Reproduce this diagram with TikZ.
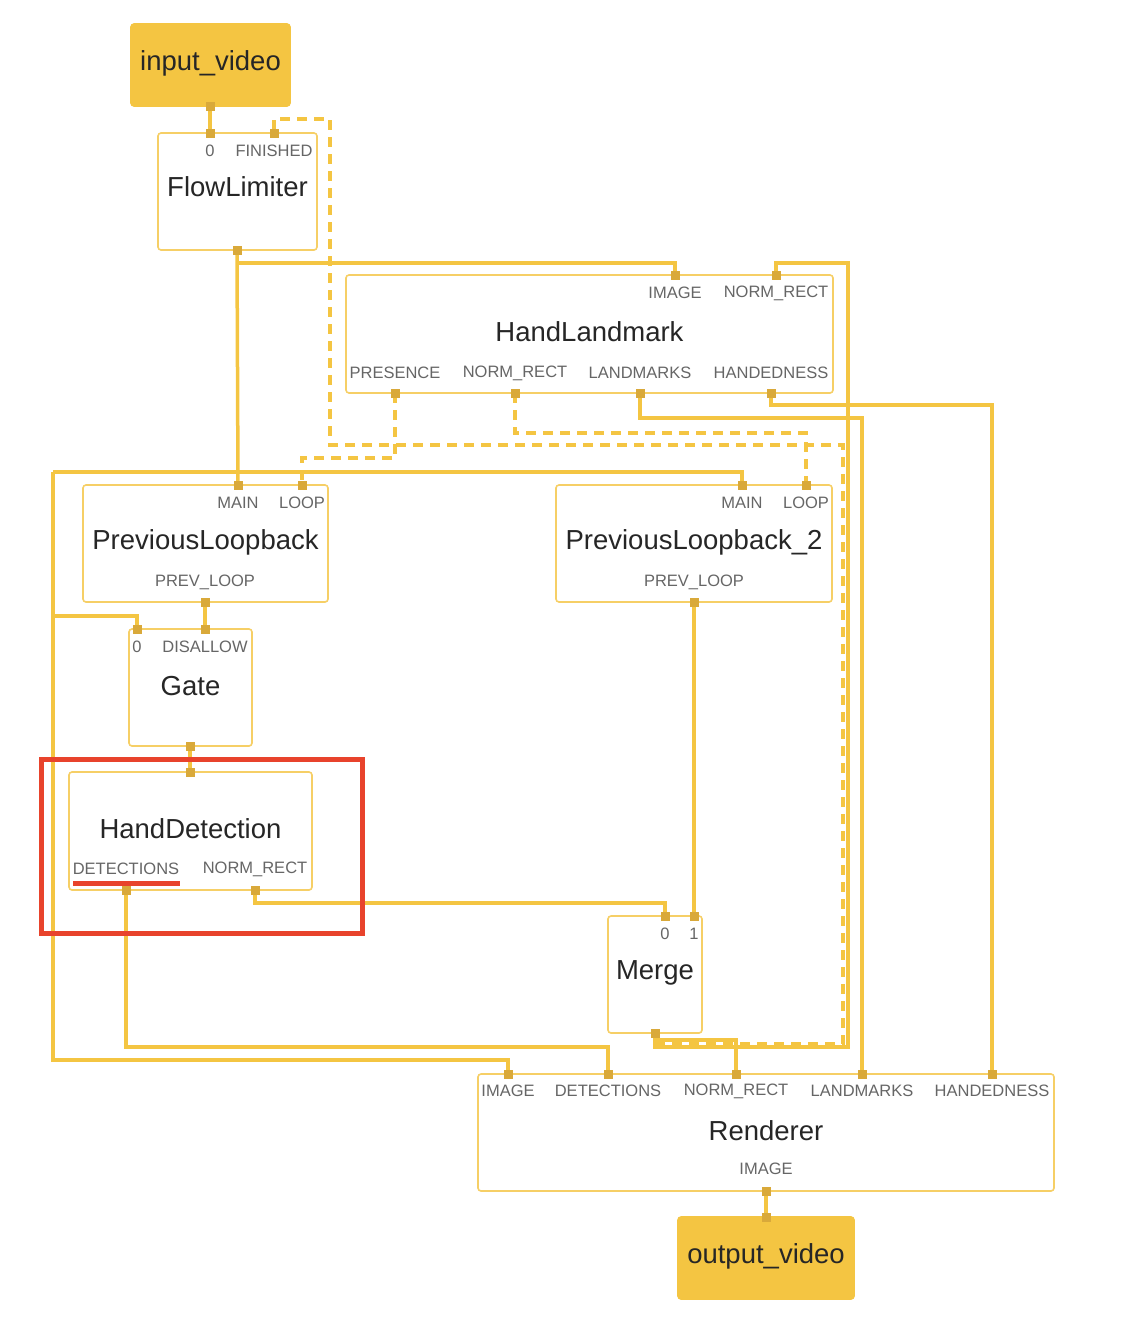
\documentclass[tikz,border=0pt]{standalone}
\usepackage{fontspec}
\setmainfont{Liberation Sans}
\usetikzlibrary{positioning}
\definecolor{wirecol}{HTML}{F4C542}
\definecolor{portcol}{HTML}{D9A93A}
\definecolor{framecol}{HTML}{F6CF66}
\definecolor{marker}{HTML}{E8432C}
\tikzset{
    box/.style = {draw=framecol, line width=1.6pt, fill=white, rounded corners=3pt, inner sep=0pt},
    stream/.style = {box, fill=wirecol, draw=wirecol},
    title/.style = {font=\fontsize{27.5}{30}\selectfont, text=black!85, inner sep=0pt},
    plabel/.style = {font=\fontsize{16.5}{18}\selectfont, text=black!60, inner sep=0pt},
    port/.style = {rectangle, fill=portcol, minimum size=9pt, inner sep=0pt},
    wire/.style = {draw=wirecol, line width=3.5pt},
    back/.style = {wire, dash pattern=on 10pt off 7pt}
}
\begin{document}
\begin{tikzpicture}[x=1pt, y=-1pt]
    \useasboundingbox (0,0) rectangle (1138,1328);

    % nodes
    \node[stream, minimum width=159, minimum height=82] (invid) at (210.5,65) {};
    \node[title] at (210.5,63) {input\_video};
    \node[box, minimum width=159, minimum height=117] (flow) at (237.5,191.5) {};
    \node[title] at (237.5,187) {FlowLimiter};
    \node[box, minimum width=487, minimum height=118] (land) at (589.5,334) {};
    \node[title] at (589.5,332) {HandLandmark};
    \node[box, minimum width=245, minimum height=117] (prev) at (205.5,543.5) {};
    \node[title] at (205.5,542) {PreviousLoopback};
    \node[box, minimum width=276, minimum height=117] (prevb) at (694,543.5) {};
    \node[title] at (694,542) {PreviousLoopback\_2};
    \node[box, minimum width=123, minimum height=117] (gate) at (190.5,687.5) {};
    \node[title] at (190.5,686) {Gate};
    \node[box, minimum width=243, minimum height=118] (det) at (190.5,831) {};
    \node[title] at (190.5,829) {HandDetection};
    \node[box, minimum width=94, minimum height=117] (merge) at (655,974.5) {};
    \node[title] at (655,973) {Merge};
    \node[box, minimum width=576, minimum height=117] (rend) at (766,1132.5) {};
    \node[title] at (766,1131) {Renderer};
    \node[stream, minimum width=176, minimum height=82] (outvid) at (766,1258) {};
    \node[title] at (766,1256) {output\_video};

    % port labels
    \node[plabel] at (210,151) {0};
    \node[plabel] at (274,151) {FINISHED};
    \node[plabel] at (675,293) {IMAGE};
    \node[plabel] at (776,293) {NORM\_RECT};
    \node[plabel] at (395,373) {PRESENCE};
    \node[plabel] at (515,373) {NORM\_RECT};
    \node[plabel] at (640,373) {LANDMARKS};
    \node[plabel] at (771,373) {HANDEDNESS};
    \node[plabel] at (238,503) {MAIN};
    \node[plabel] at (302,503) {LOOP};
    \node[plabel] at (205,582) {PREV\_LOOP};
    \node[plabel] at (742,503) {MAIN};
    \node[plabel] at (806,503) {LOOP};
    \node[plabel] at (694,582) {PREV\_LOOP};
    \node[plabel] at (137,647) {0};
    \node[plabel] at (205,647) {DISALLOW};
    \node[plabel] at (126,869) {DETECTIONS};
    \node[plabel] at (255,869) {NORM\_RECT};
    \node[plabel] at (665,934) {0};
    \node[plabel] at (694,934) {1};
    \node[plabel] at (508,1091) {IMAGE};
    \node[plabel] at (608,1091) {DETECTIONS};
    \node[plabel] at (736,1091) {NORM\_RECT};
    \node[plabel] at (862,1091) {LANDMARKS};
    \node[plabel] at (992,1091) {HANDEDNESS};
    \node[plabel] at (766,1169) {IMAGE};

    % connectors
    \coordinate (split) at (238,472);
    \draw[back] (merge.south) ++(0,10) -| (843,445) -| (330,119) -| (274,133);
    \draw[back] (515,393) |- (806,433) -- (806,485);
    \draw[back] (395,393) |- (302,458) -- (302,485);
    \draw[wire] (210,106) -- (210,133);
    \draw[wire] (237,250) -- (238,485);
    \draw[wire] (237,263) -| (675,275);
    \draw[wire] (53,472) -| (742,485);
    \draw[wire] (53,472) |- (508,1060) -- (508,1074);
    \draw[wire] (53,616) -| (137,629);
    \draw[wire] (655,1033) |- (848,1047) |- (776,263) -- (776,275);
    \draw[wire] (655,1040) -| (736,1074);
    \draw[wire] (640,393) |- (862,418) -- (862,1074);
    \draw[wire] (771,393) |- (992,405) -- (992,1074);
    \draw[wire] (205,602) -- (205,629);
    \draw[wire] (190,746) -- (190,772);
    \draw[wire] (126,890) |- (608,1047) -- (608,1074);
    \draw[wire] (255,890) |- (665,903) -- (665,916);
    \draw[wire] (694,602) -- (694,916);
    \draw[wire] (766,1191) -- (766,1217);

    % ports
    \foreach \px/\py in {210/106,210/133,274/133,237/250,675/275,776/275,
        395/393,515/393,640/393,771/393,238/485,302/485,205/602,742/485,806/485,
        694/602,137/629,205/629,190/746,190/772,126/890,255/890,665/916,694/916,
        655/1033,508/1074,608/1074,736/1074,862/1074,992/1074,766/1191,766/1217}
        \node[port] at (\px,\py) {};

    % highlight
    \draw[marker, line width=5pt] (41,759) rectangle (362,933);
    \draw[marker, line width=5pt] (73,883) -- (180,883);
\end{tikzpicture}
\end{document}
